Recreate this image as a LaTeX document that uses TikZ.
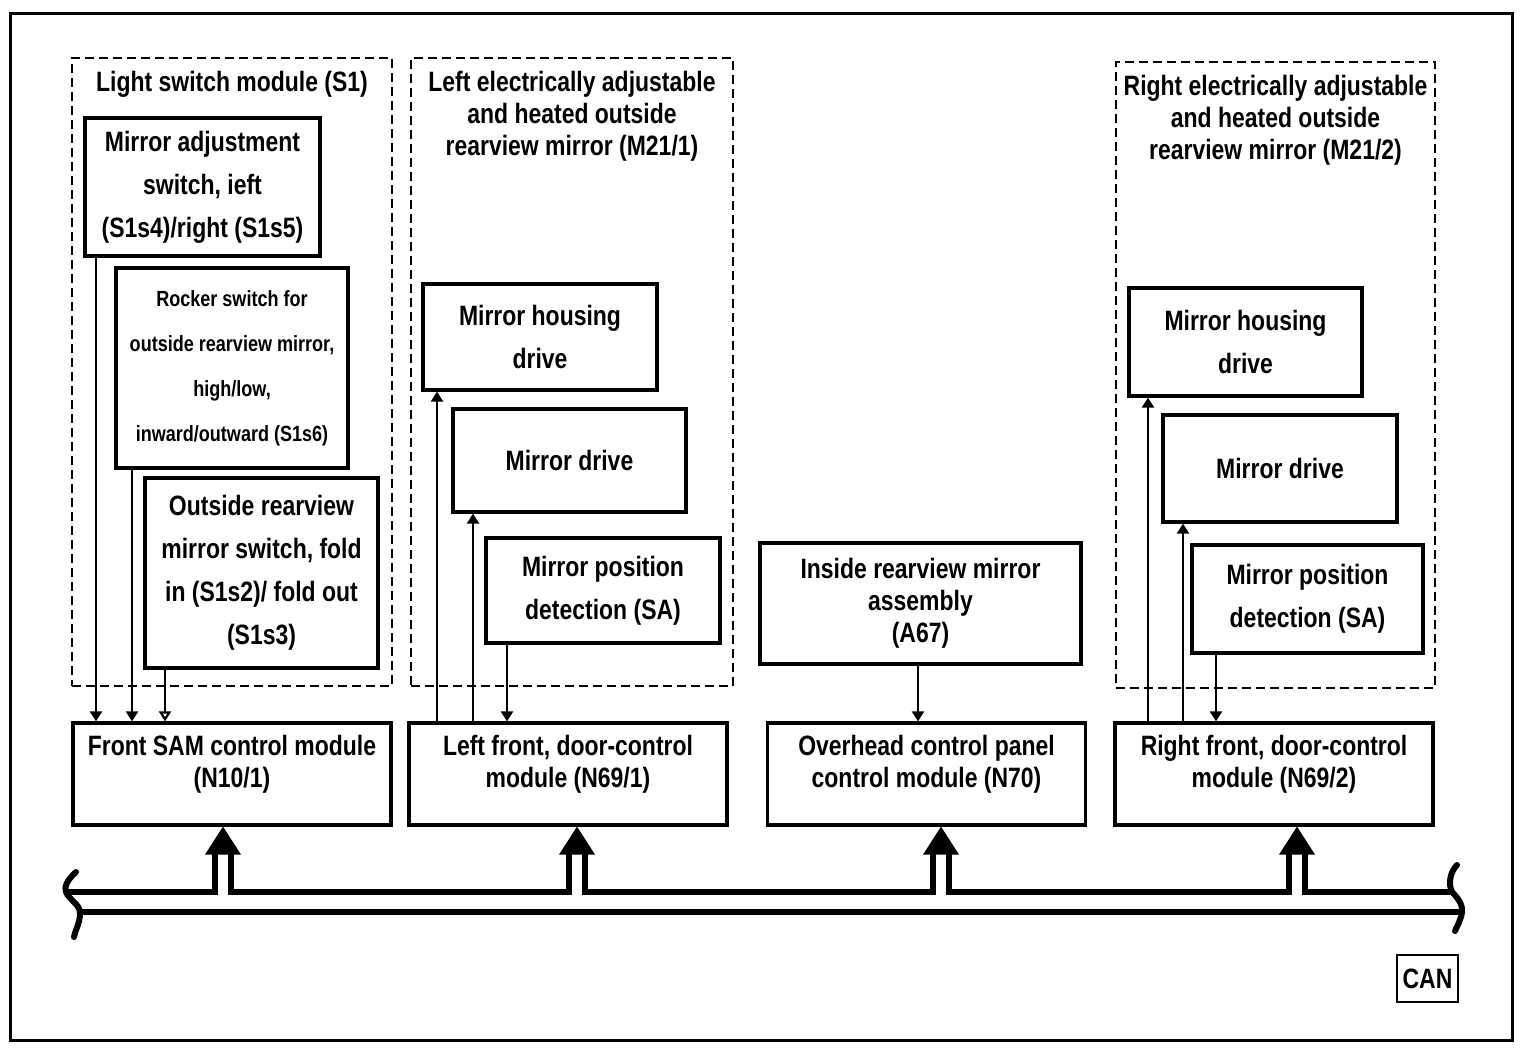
\documentclass[tikz,border=0pt]{standalone}
\usepackage{fontspec}
\setmainfont{Liberation Sans}[FakeStretch=0.82]
\usetikzlibrary{arrows.meta,positioning}

\tikzset{
    box/.style={draw, line width=1.6pt, inner sep=0pt, align=center, font=\bfseries\fontsize{14}{21.5}\selectfont},
    modbox/.style={draw, line width=1.6pt, inner sep=0pt, minimum width=159pt, minimum height=51pt},
    grp/.style={draw, line width=1.2pt, dash pattern=on 4.5pt off 2.5pt, inner sep=0pt},
    grptxt/.style={inner sep=0pt, align=center, font=\bfseries\fontsize{14}{16}\selectfont},
    sig/.style={line width=1.1pt, -{Triangle[length=5pt,width=6pt]}},
    bus/.style={line width=3pt},
}

\begin{document}
\begin{tikzpicture}[x=0.5pt,y=-0.5pt]
    \useasboundingbox (0,0) rectangle (1536,1058);
    \draw[line width=1.5pt] (10,14) rectangle (1512,1040);%外框

    % Light switch module
    \node[grp, minimum width=160pt, minimum height=314pt] (s1) at (232,372) {};
    \node[grptxt, below=7pt of s1.north] (s1t) {Light switch module (S1)};
    \node[box, minimum width=117.5pt, minimum height=69pt] (madj) at (202.5,187)
        {Mirror adjustment\\switch, ieft\\(S1s4)/right (S1s5)};
    \node[box, font=\bfseries\fontsize{11}{22.5}\selectfont, minimum width=116pt, minimum height=100pt] (rocker) at (232,368)
        {Rocker switch for\\outside rearview mirror,\\high/low,\\inward/outward (S1s6)};
    \node[box, minimum width=116.5pt, minimum height=95pt] (fold) at (261.5,573)
        {Outside rearview\\mirror switch, fold\\in (S1s2)/ fold out\\(S1s3)};

    % left mirror
    \node[grp, minimum width=161pt, minimum height=314pt] (lmir) at (572,372) {};
    \node[grptxt, below=7pt of lmir.north] (lmirt) {Left electrically adjustable\\and heated outside\\rearview mirror (M21/1)};
    \node[box, minimum width=117pt, minimum height=53pt] (lhous) at (540,337) {Mirror housing\\drive};
    \node[box, minimum width=116.5pt, minimum height=51.5pt] (ldrv) at (569.5,460.5) {Mirror drive};
    \node[box, minimum width=117pt, minimum height=52.5pt] (lpos) at (603,590.5) {Mirror position\\detection (SA)};

    % inside mirror
    \node[box, font=\bfseries\fontsize{14}{16}\selectfont, minimum width=160.5pt, minimum height=60.5pt] (a67) at (920.5,603.5)
        {Inside rearview mirror\\assembly\\(A67)};

    % right mirror
    \node[grp, minimum width=159.5pt, minimum height=313pt] (rmir) at (1275.5,375) {};
    \node[grptxt, below=7pt of rmir.north] (rmirt) {Right electrically adjustable\\and heated outside\\rearview mirror (M21/2)};
    \node[box, minimum width=116.5pt, minimum height=54pt] (rhous) at (1245.5,342) {Mirror housing\\drive};
    \node[box, minimum width=117pt, minimum height=53.5pt] (rdrv) at (1280,468.5) {Mirror drive};
    \node[box, minimum width=115.5pt, minimum height=54pt] (rpos) at (1307.5,599) {Mirror position\\detection (SA)};

    % control modules
    \node[modbox] (sam) at (232,774) {};
    \node[grptxt, below=6.5pt of sam.north] (samt) {Front SAM control module\\(N10/1)};
    \node[modbox] (ldcm) at (568,774) {};
    \node[grptxt, below=6.5pt of ldcm.north] (ldcmt) {Left front, door-control\\module (N69/1)};
    \node[modbox] (ovh) at (926.5,774) {};
    \node[grptxt, below=6.5pt of ovh.north] (ovht) {Overhead control panel\\control module (N70)};
    \node[modbox] (rdcm) at (1274,774) {};
    \node[grptxt, below=6.5pt of rdcm.north] (rdcmt) {Right front, door-control\\module (N69/2)};

    \node[box, line width=1.2pt, minimum width=30.5pt, minimum height=23.5pt] (can) at (1427.5,978.5) {CAN};

    % signal lines
    \draw[sig] (madj.south -| 96,0) -- (sam.north -| 96,0);
    \draw[sig] (rocker.south -| 132,0) -- (sam.north -| 132,0);
    \draw[sig, -{Triangle[open,length=5pt,width=6pt]}] (fold.south -| 165,0) -- (sam.north -| 165,0);
    \draw[sig] (ldcm.north -| 437,0) -- (lhous.south -| 437,0);
    \draw[sig] (ldcm.north -| 473,0) -- (ldrv.south -| 473,0);
    \draw[sig] (lpos.south -| 507,0) -- (ldcm.north -| 507,0);
    \draw[sig] (a67.south -| 918,0) -- (ovh.north -| 918,0);
    \draw[sig] (rdcm.north -| 1148,0) -- (rhous.south -| 1148,0);
    \draw[sig] (rdcm.north -| 1183,0) -- (rdrv.south -| 1183,0);
    \draw[sig] (rpos.south -| 1216,0) -- (rdcm.north -| 1216,0);

    % CAN bus
    \draw[bus] (66,892) -| (215,852);
    \draw[bus] (231,852) |- (569,892) -- (569,852);
    \draw[bus] (585,852) |- (933,892) -- (933,852);
    \draw[bus] (949,852) |- (1289,892) -- (1289,852);
    \draw[bus] (1305,852) |- (1452,892);
    \draw[bus] (80,912) -- (1462,912);
    \foreach \m/\x in {sam/223,ldcm/577,ovh/941,rdcm/1297}
        \fill (\m.south -| \x,0) ++(-18,28) -- (\m.south -| \x,0) -- ++(18,28) -- cycle;
    \draw[bus, line cap=round] (76,872) .. controls (67,880) and (64,887) .. (66,892)
        .. controls (69,900) and (80,904) .. (80,913) .. controls (80,924) and (75,930) .. (74,937);
    \draw[bus, line cap=round] (1457,865) .. controls (1450,872) and (1448,884) .. (1452,892)
        .. controls (1458,898) and (1463,905) .. (1462,912) .. controls (1461,920) and (1457,926) .. (1455,931);
\end{tikzpicture}
\end{document}
